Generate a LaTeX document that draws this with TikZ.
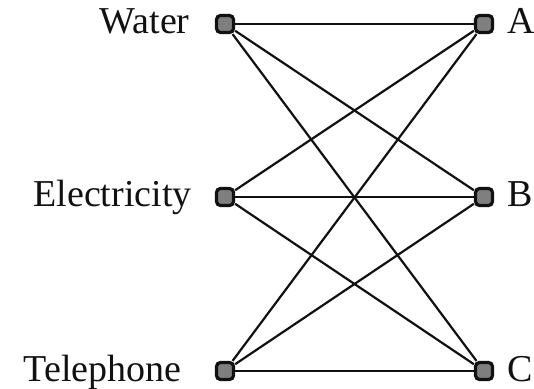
\documentclass[tikz,border=0pt]{standalone}
\usepackage{fontspec}
\setmainfont{Liberation Serif}
\usetikzlibrary{positioning}
\definecolor{ugInk}{HTML}{111111}
\definecolor{ugGrey}{HTML}{7F7F7F}
\tikzset{
  util/.style={draw=ugInk, fill=ugGrey, line width=1.6pt, rounded corners=2pt, minimum size=8.5pt, inner sep=0pt},
  lbl/.style={font=\fontsize{19}{22}\selectfont, inner sep=0pt, text=ugInk},
  wire/.style={draw=ugInk, line width=1.1pt},
}
\begin{document}
\begin{tikzpicture}[x=0.5pt,y=-0.5pt]
  \useasboundingbox (0,0) rectangle (534,389);
  % the three utilities
  \node[util] (w) at (225,24) {};
  \node[util] (e) at (225,197) {};
  \node[util] (t) at (225,371) {};
  % the three houses
  \node[util] (a) at (484,24) {};
  \node[util] (b) at (484,197) {};
  \node[util] (c) at (484,371) {};
  \node[lbl, anchor=base east] (wl) at (190,34) {Water};
  \node[lbl, anchor=base east] (el) at (192,207) {Electricity};
  \node[lbl, anchor=base east] (tl) at (182,381) {Telephone};
  \node[lbl, anchor=base west] (al) at (507,34) {A};
  \node[lbl, anchor=base west] (bl) at (507,207) {B};
  \node[lbl, anchor=base west] (cl) at (507,381) {C};
  % every utility to every house
  \foreach \u in {w,e,t} {
    \foreach \h in {a,b,c} {
      \draw[wire] (\u) -- (\h);
    }
  }
\end{tikzpicture}
\end{document}
